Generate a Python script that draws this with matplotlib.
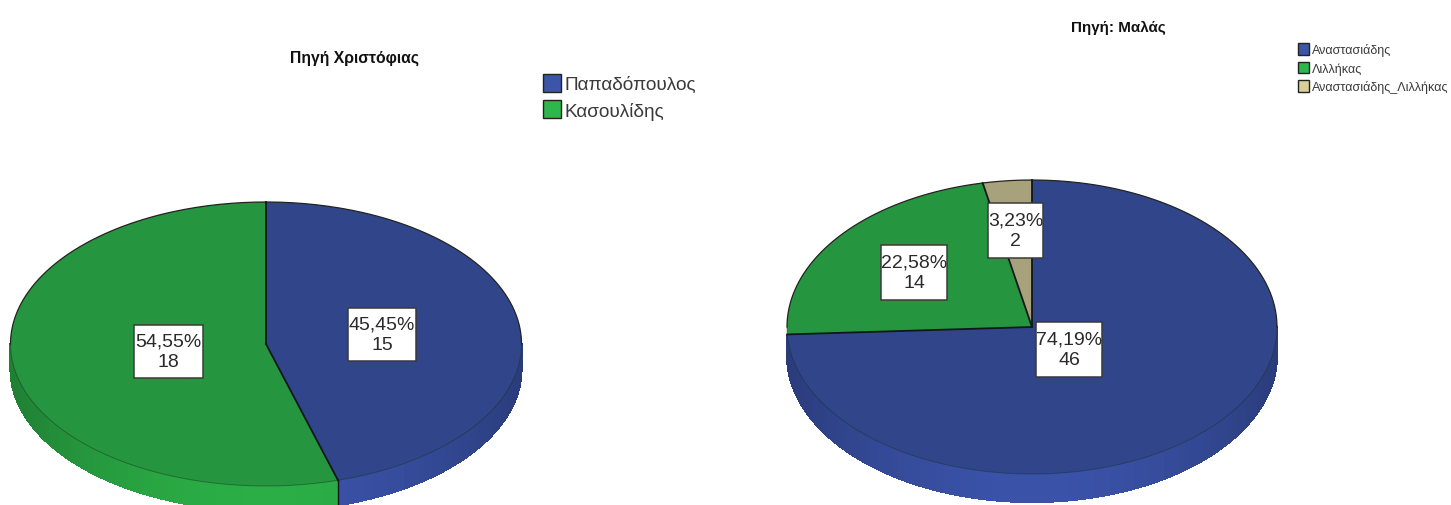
import numpy as np
import matplotlib
matplotlib.use("Agg")
import matplotlib.pyplot as plt
from matplotlib.patches import Polygon, Patch, Rectangle

plt.rcParams['font.family'] = ['Liberation Sans', 'DejaVu Sans']

# data
left_title = "Πηγή Χριστόφιας"
left_names = ["Παπαδόπουλος", "Κασουλίδης"]
left_values = [15, 18]
left_pct = ["45,45%", "54,55%"]

right_title = "Πηγή: Μαλάς"
right_names = ["Αναστασιάδης", "Λιλλήκας", "Αναστασιάδης_Λιλλήκας"]
right_values = [46, 14, 2]
right_pct = ["74,19%", "22,58%", "3,23%"]

top_colors = ["#31468a", "#26953f", "#a8a27c"]
rim_colors = ["#3a52a8", "#2bae46", "#c4bd90"]
swatch_colors = ["#3c55a8", "#2db84b", "#d8cf96"]
edge = "#10181a"

W, H = 1451, 506
fig = plt.figure(figsize=(W / 100, H / 100), dpi=100)


# one transparent axes over the whole figure, scaled so the unit circle is the pie ellipse
def draw_pie(values, cx, cy, rx, ry, depth):
    ax = fig.add_axes([0, 0, 1, 1])
    ax.pie(values, startangle=90, counterclock=False, colors=top_colors,
           wedgeprops=dict(linewidth=0, zorder=3))
    ax.set_aspect('auto')
    ax.set_xlim((0 - cx) / rx, (W - cx) / rx)
    ax.set_ylim((cy - H) / ry, cy / ry)
    ax.patch.set_alpha(0)
    ax.axis('off')

    d = depth / ry
    ends = np.cumsum(values) / np.sum(values) * 360
    starts = np.r_[0, ends[:-1]]

    # spokes between slices
    for b in np.r_[0, ends[:-1]]:
        tt = np.radians(b)
        ax.plot([0, np.sin(tt)], [0, np.cos(tt)], color=edge, lw=1.3, zorder=5)

    # back of the outline is dark, front is only faint
    tb = np.radians(np.linspace(-90, 90, 200))
    ax.plot(np.sin(tb), np.cos(tb), color="#222222", lw=0.9, zorder=4)
    tb = np.radians(np.linspace(90, 270, 200))
    ax.plot(np.sin(tb), np.cos(tb), color="#16321f", lw=0.7, alpha=0.45, zorder=4)

    # side of the disc, front half only, cut in strips for the shading
    for i, (a, b) in enumerate(zip(starts, ends)):
        a2, b2 = max(a, 90), min(b, 270)
        # a few degrees at the far edge are under a pixel wide, leave them out
        if b2 - a2 < 5:
            continue
        cuts = np.linspace(a2, b2, int((b2 - a2) / 2) + 2)
        for t0, t1 in zip(cuts[:-1], cuts[1:]):
            t = np.radians(np.linspace(t0, t1, 5))
            xs, ys = np.sin(t), np.cos(t)
            pts = np.r_[np.c_[xs, ys], np.c_[xs[::-1], ys[::-1] - d]]
            mid = abs(np.sin(np.radians((t0 + t1) / 2)))
            shade = 1 - 0.27 * mid ** 2
            col = np.array(matplotlib.colors.to_rgb(rim_colors[i])) * shade
            ax.add_patch(Polygon(pts, closed=True, fc=col, ec=col, lw=0.8,
                                 antialiased=False, zorder=1))
        if 90 < b < 260:
            tt = np.radians(b)
            ax.plot([np.sin(tt)] * 2, [np.cos(tt), np.cos(tt) - d], color=edge, lw=1.0, zorder=4)
    return ax


def px_text(x, y, s, **kw):
    return fig.text(x / W, 1 - y / H, s, **kw)


def box_label(x0, y0, x1, y1, pct, n):
    fig.add_artist(Rectangle((x0 / W, 1 - y1 / H), (x1 - x0) / W, (y1 - y0) / H, fc="white",
                             ec="#3a3a3a", lw=1.1, transform=fig.transFigure, zorder=9))
    px_text((x0 + x1) / 2, (y0 + y1) / 2, pct + "\n" + str(n), ha='center', va='center',
            fontsize=14, color="#2a2a2a", linespacing=1.3, zorder=10)


def legend(names, x, y, fontsize, hlen, hheight, spacing, pad):
    handles = [Patch(fc=swatch_colors[i], ec="#222222", lw=1.0, label=nm) for i, nm in enumerate(names)]
    fig.legend(handles=handles, loc='upper left', bbox_to_anchor=(x / W, 1 - y / H),
               frameon=False, fontsize=fontsize, borderpad=0, borderaxespad=0,
               handlelength=hlen, handleheight=hheight, handletextpad=pad,
               labelspacing=spacing, labelcolor="#3a3a3a")


draw_pie(left_values, 266, 345, 255.5, 142, 25)
draw_pie(right_values, 1032, 328, 245, 147, 28)

# titles
px_text(355, 58, left_title, ha='center', va='center', fontsize=11.3, fontweight='bold', color="#111111")
px_text(1118, 28, right_title, ha='center', va='center', fontsize=10.9, fontweight='bold', color="#111111")

legend(left_names, 543, 75, 13.7, 0.95, 1.05, 0.37, 0.16)
legend(right_names, 1298, 44, 9, 0.88, 1.04, 0.44, 0.25)

# value boxes
box_label(348, 309, 416, 362, left_pct[0], left_values[0])
box_label(134, 326, 203, 379, left_pct[1], left_values[1])
box_label(1036, 323, 1102, 378, right_pct[0], right_values[0])
box_label(881, 246, 947, 301, right_pct[1], right_values[1])
box_label(988, 204, 1043, 259, right_pct[2], right_values[2])

fig.savefig("out.png", dpi=100, facecolor="white")
